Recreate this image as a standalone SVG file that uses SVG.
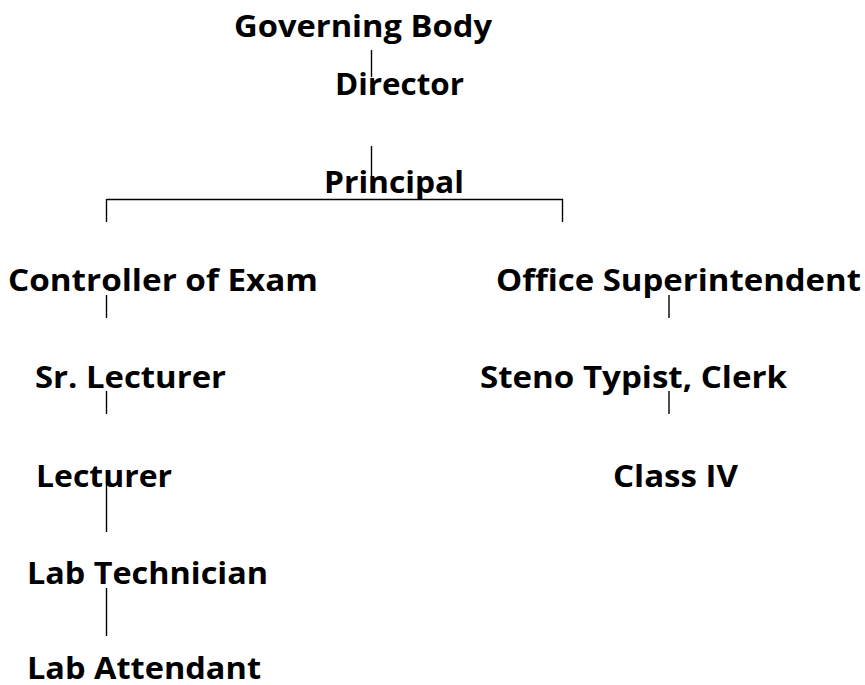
<svg xmlns="http://www.w3.org/2000/svg" width="865" height="685" viewBox="0 0 865 685">
<style>
text{font-family:"Open Sans","Liberation Sans",sans-serif;font-weight:bold;font-size:31px;fill:#000}
.c line{stroke:#000;stroke-width:1.4}
</style>
<rect width="865" height="685" fill="#fff"/>
<g class="c" id="connectors">
<line x1="371.5" y1="50" x2="371.5" y2="77"/>
<line x1="371.5" y1="146" x2="371.5" y2="193"/>
<line x1="106.5" y1="199.5" x2="563" y2="199.5"/>
<line x1="106.5" y1="199" x2="106.5" y2="222"/>
<line x1="562.5" y1="199" x2="562.5" y2="222"/>
<line x1="106.5" y1="295" x2="106.5" y2="318"/>
<line x1="106.5" y1="391" x2="106.5" y2="414"/>
<line x1="106.5" y1="481" x2="106.5" y2="532"/>
<line x1="106.5" y1="588" x2="106.5" y2="636"/>
<line x1="669" y1="295" x2="669" y2="318"/>
<line x1="669" y1="391" x2="669" y2="414"/>
</g>
<g id="governing-body"><text x="234" y="37" textLength="258" lengthAdjust="spacingAndGlyphs">Governing Body</text></g>
<g id="director"><text x="335" y="95" textLength="129" lengthAdjust="spacingAndGlyphs">Director</text></g>
<g id="principal"><text x="324" y="193" textLength="140" lengthAdjust="spacingAndGlyphs">Principal</text></g>
<g id="controller"><text x="8" y="291" textLength="310" lengthAdjust="spacingAndGlyphs">Controller of Exam</text></g>
<g id="sr-lecturer"><text x="35" y="388" textLength="191" lengthAdjust="spacingAndGlyphs">Sr. Lecturer</text></g>
<g id="lecturer"><text x="36" y="487" textLength="136" lengthAdjust="spacingAndGlyphs">Lecturer</text></g>
<g id="lab-technician"><text x="27" y="584" textLength="241" lengthAdjust="spacingAndGlyphs">Lab Technician</text></g>
<g id="lab-attendant"><text x="27" y="679" textLength="234" lengthAdjust="spacingAndGlyphs">Lab Attendant</text></g>
<g id="office-superintendent"><text x="496" y="291" textLength="365" lengthAdjust="spacingAndGlyphs">Office Superintendent</text></g>
<g id="steno-typist"><text x="480" y="388" textLength="307" lengthAdjust="spacingAndGlyphs">Steno Typist, Clerk</text></g>
<g id="class-iv"><text x="613" y="487" textLength="125" lengthAdjust="spacingAndGlyphs">Class IV</text></g>
</svg>
